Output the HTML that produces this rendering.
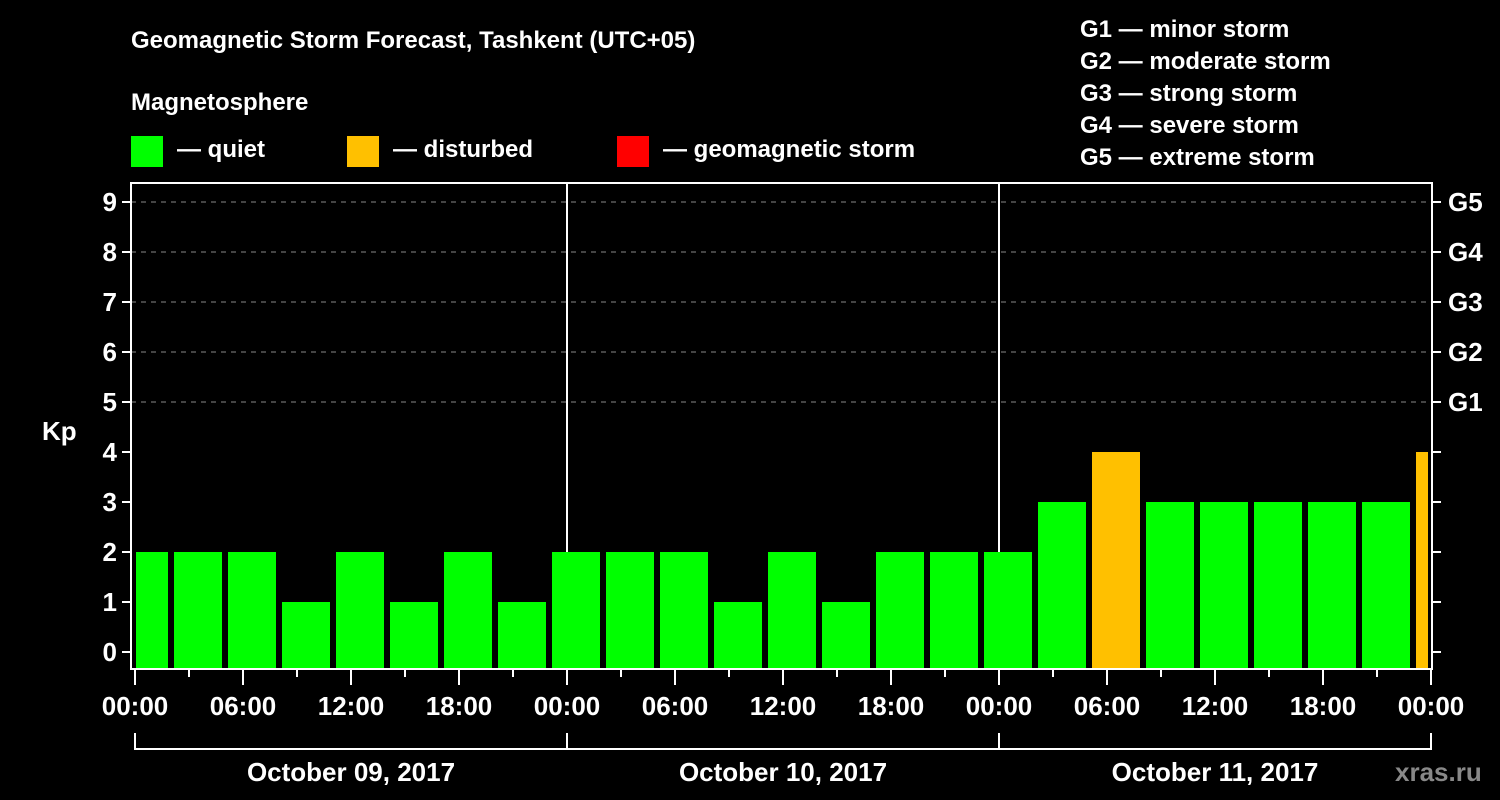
<!DOCTYPE html>
<html><head><meta charset="utf-8"><style>
html,body{margin:0;padding:0;background:#000;}
svg{display:block;font-family:"Liberation Sans",Arial,sans-serif;font-weight:bold;}
</style></head><body>
<svg id="chart" width="1500" height="800" viewBox="0 0 1500 800">
<rect width="1500" height="800" fill="#000"/>
<text x="131" y="48" fill="#fff" font-size="24">Geomagnetic Storm Forecast, Tashkent (UTC+05)</text>
<text x="131" y="110" fill="#fff" font-size="24">Magnetosphere</text>
<g><rect x="131" y="136" width="32" height="31" fill="#00ff00"/><text x="177" y="157" fill="#fff" font-size="24">— quiet</text></g>
<g><rect x="347" y="136" width="32" height="31" fill="#ffc000"/><text x="393" y="157" fill="#fff" font-size="24">— disturbed</text></g>
<g><rect x="617" y="136" width="32" height="31" fill="#ff0000"/><text x="663" y="157" fill="#fff" font-size="24">— geomagnetic storm</text></g>
<g fill="#fff" font-size="24">
<text x="1080" y="37">G1 — minor storm</text>
<text x="1080" y="69">G2 — moderate storm</text>
<text x="1080" y="101">G3 — strong storm</text>
<text x="1080" y="133">G4 — severe storm</text>
<text x="1080" y="165">G5 — extreme storm</text>
</g>
<text x="42" y="440" fill="#fff" font-size="26">Kp</text>
<text x="1395" y="781" fill="#888" font-size="26">xras.ru</text>
<g id="grid"></g><g id="bars"></g><g id="axes"></g>
</svg>
<script>
const kpValues=[2,2,2,1,2,1,2,1,2,2,2,1,2,1,2,2,2,3,4,3,3,3,3,3,4];
const startHours=[0,2,5,8,11,14,17,20,23,26,29,32,35,38,41,44,47,50,53,56,59,62,65,68,71];
const endHours=[2,5,8,11,14,17,20,23,26,29,32,35,38,41,44,47,50,53,56,59,62,65,68,71,72];
const yTicks=[0,1,2,3,4,5,6,7,8,9];
const gLabels=["G1","G2","G3","G4","G5"];
const xTickLabels=["00:00","06:00","12:00","18:00","00:00","06:00","12:00","18:00","00:00","06:00","12:00","18:00","00:00"];
const dayLabels=["October 09, 2017","October 10, 2017","October 11, 2017"];
const NS="http://www.w3.org/2000/svg";
const X0=135,PXH=18,Y0=652,PXK=50,TOP=183,BOT=669,LEFT=131,RIGHT=1432;
const xs=h=>X0+h*PXH, ys=k=>Y0-k*PXK;
function mk(tag,attrs,parent){const e=document.createElementNS(NS,tag);for(const k in attrs)e.setAttribute(k,attrs[k]);document.getElementById(parent).appendChild(e);return e;}
const color=k=>k>=5?"#ff0000":(k>=4?"#ffc000":"#00ff00");
// grid
for(let k=5;k<=9;k++){const l=mk("line",{x1:LEFT,x2:RIGHT,y1:ys(k),y2:ys(k),stroke:"#888","stroke-width":1,"stroke-dasharray":"5,5"},"grid");

}
for(let d=1;d<3;d++){const l=mk("line",{x1:xs(24*d),x2:xs(24*d),y1:TOP,y2:BOT,stroke:"#fff","stroke-width":2},"grid");

}
// bars
kpValues.forEach((v,i)=>{let x1=xs(startHours[i])+3,x2=xs(endHours[i])-3;if(startHours[i]===0)x1=xs(0)+1;
const r=mk("rect",{x:x1,y:ys(v),width:x2-x1,height:BOT-1-ys(v),fill:color(v)},"bars");

});
// frame
const f=mk("rect",{x:LEFT,y:TOP,width:RIGHT-LEFT,height:BOT-TOP,fill:"none",stroke:"#fff","stroke-width":2},"axes");


yTicks.forEach(k=>{mk("line",{x1:LEFT-9,x2:LEFT,y1:ys(k),y2:ys(k),stroke:"#fff","stroke-width":2},"axes");
mk("line",{x1:RIGHT,x2:RIGHT+9,y1:ys(k),y2:ys(k),stroke:"#fff","stroke-width":2},"axes");
const t=mk("text",{x:LEFT-14,y:ys(k)+9,fill:"#fff","font-size":26,"text-anchor":"end"},"axes");t.textContent=k;

});
gLabels.forEach((g,i)=>{const t=mk("text",{x:1448,y:ys(5+i)+9,fill:"#fff","font-size":26},"axes");t.textContent=g;

});
for(let h=0;h<=72;h+=3){const maj=h%6===0;mk("line",{x1:xs(h),x2:xs(h),y1:BOT,y2:BOT+(maj?16:8),stroke:"#fff","stroke-width":2},"axes");}
xTickLabels.forEach((s,i)=>{const t=mk("text",{x:xs(i*6),y:715,fill:"#fff","font-size":26,"text-anchor":"middle"},"axes");t.textContent=s;

});
mk("line",{x1:xs(0),x2:xs(72),y1:749,y2:749,stroke:"#fff","stroke-width":2},"axes");
for(let d=0;d<=3;d++)mk("line",{x1:xs(24*d),x2:xs(24*d),y1:733,y2:750,stroke:"#fff","stroke-width":2},"axes");
dayLabels.forEach((s,i)=>{const t=mk("text",{x:xs(24*i+12),y:781,fill:"#fff","font-size":26,"text-anchor":"middle"},"axes");t.textContent=s;

});
</script>
</body></html>
